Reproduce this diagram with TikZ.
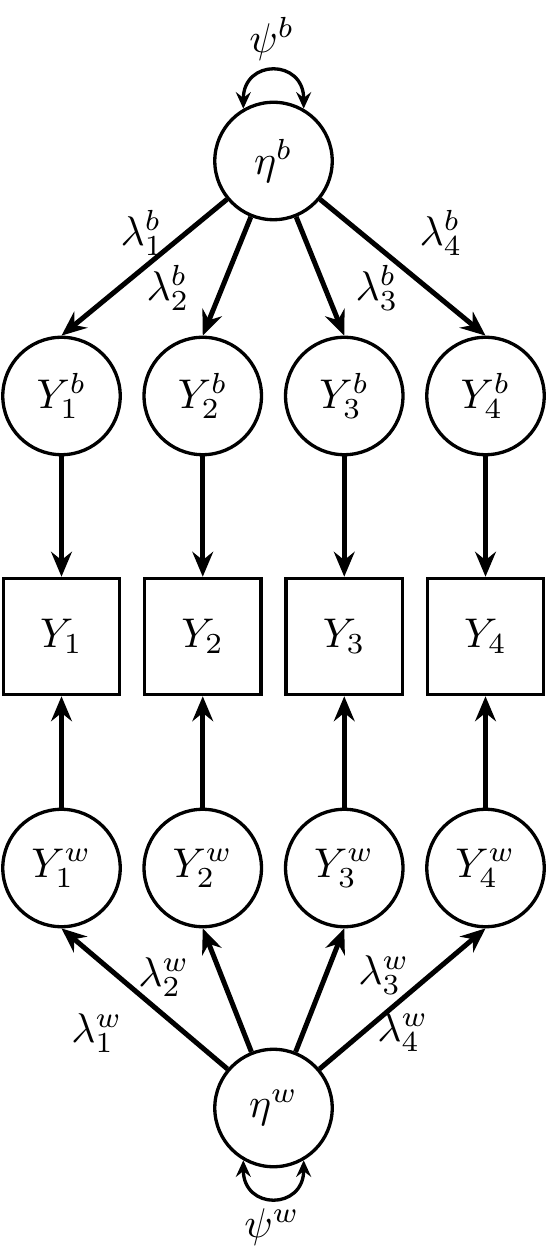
\documentclass[tikz,border=0pt]{standalone}
\usetikzlibrary{arrows.meta}
\begin{document}
\begin{tikzpicture}[x=0.24096pt,y=-0.24096pt,
  latent/.style={circle,draw,thick,minimum size=28.3pt,inner sep=0pt},
  manifest/.style={rectangle,draw,thick,minimum size=28pt,inner sep=0pt},
  loading/.style={line width=1.2pt,-{Stealth[length=6pt,width=5pt,inset=2pt]}},
  covar/.style={thick,{Stealth[length=4pt,width=3.6pt,inset=1.4pt]}-{Stealth[length=4pt,width=3.6pt,inset=1.4pt]}},
  lab/.style={inner sep=0pt}]
\useasboundingbox (0,0) rectangle (547,1260);
% latent top
\node[latent] (etab) at (273.5,161) {$\eta^b$};
\node[latent] (Y1b) at (61.5,396) {$Y_1^b$};
\node[latent] (Y2b) at (202.75,396) {$Y_2^b$};
\node[latent] (Y3b) at (344.25,396) {$Y_3^b$};
\node[latent] (Y4b) at (485.5,396) {$Y_4^b$};
% manifest
\node[manifest] (Y1) at (61.5,636.5) {$Y_1$};
\node[manifest] (Y2) at (202.75,636.5) {$Y_2$};
\node[manifest] (Y3) at (344.25,636.5) {$Y_3$};
\node[manifest] (Y4) at (485.5,636.5) {$Y_4$};
% latent bottom
\node[latent] (Y1w) at (61.5,868) {$Y_1^w$};
\node[latent] (Y2w) at (202.75,868) {$Y_2^w$};
\node[latent] (Y3w) at (344.25,868) {$Y_3^w$};
\node[latent] (Y4w) at (485.5,868) {$Y_4^w$};
\node[latent] (etaw) at (273.5,1108) {$\eta^w$};
% loadings
\draw[loading] (etab) -- (Y1b.north);
\draw[loading] (etab) -- (Y2b.north);
\draw[loading] (etab) -- (Y3b.north);
\draw[loading] (etab) -- (Y4b.north);
\draw[loading] (etaw) -- (Y1w.south);
\draw[loading] (etaw) -- (Y2w.south);
\draw[loading] (etaw) -- (Y3w.south);
\draw[loading] (etaw) -- (Y4w.south);
\draw[loading] (Y1b) -- (Y1);
\draw[loading] (Y2b) -- (Y2);
\draw[loading] (Y3b) -- (Y3);
\draw[loading] (Y4b) -- (Y4);
\draw[loading] (Y1w) -- (Y1);
\draw[loading] (Y2w) -- (Y2);
\draw[loading] (Y3w) -- (Y3);
\draw[loading] (Y4w) -- (Y4);
% variances
\draw[covar] (etab.120) .. controls +(0,-50) and +(0,-50) .. (etab.60);
\draw[covar] (etaw.240) .. controls +(0,50) and +(0,50) .. (etaw.300);
% labels
\node[lab] (psib) at (272,39) {$\psi^b$};
\node[lab] (psiw) at (272,1227) {$\psi^w$};
\node[lab] (l1b) at (142,233) {$\lambda_1^b$};
\node[lab] (l2b) at (168,288) {$\lambda_2^b$};
\node[lab] (l3b) at (377,288) {$\lambda_3^b$};
\node[lab] (l4b) at (441,233) {$\lambda_4^b$};
\node[lab] (l1w) at (97,1033) {$\lambda_1^w$};
\node[lab] (l2w) at (164,977) {$\lambda_2^w$};
\node[lab] (l3w) at (384,975) {$\lambda_3^w$};
\node[lab] (l4w) at (403,1032) {$\lambda_4^w$};
\end{tikzpicture}
\end{document}
